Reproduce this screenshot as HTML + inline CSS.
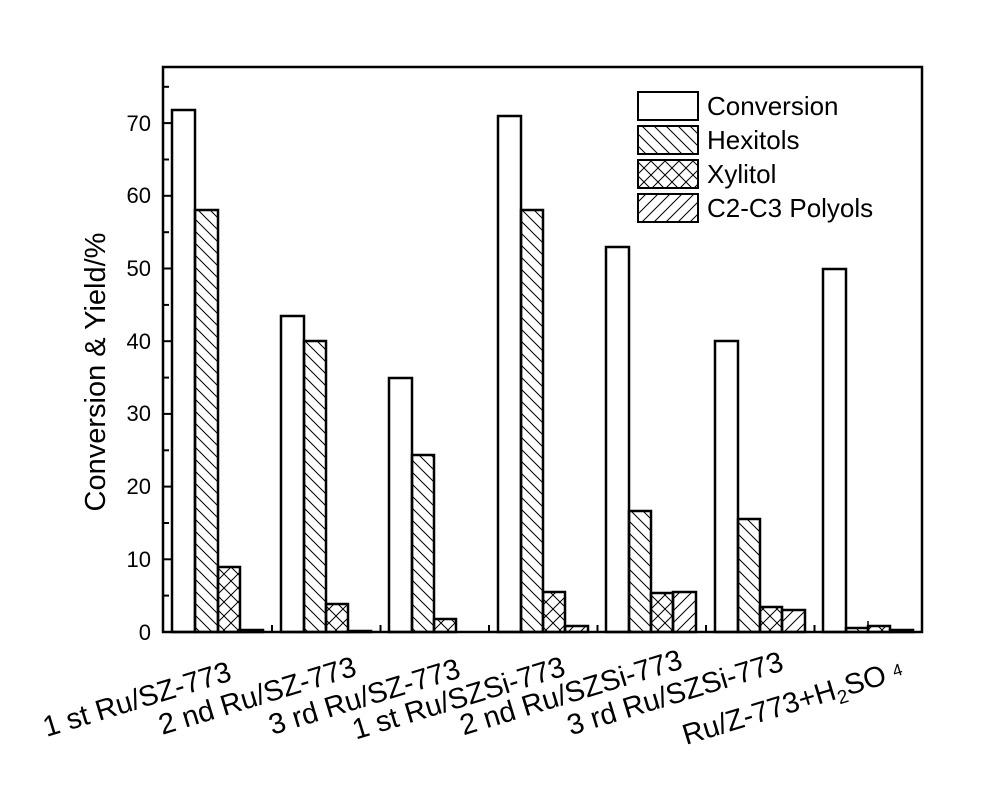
<!DOCTYPE html>
<html><head><meta charset="utf-8"><style>html,body{margin:0;padding:0;background:#fff}</style></head>
<body>
<svg width="1000" height="793" xmlns="http://www.w3.org/2000/svg" font-family="Liberation Sans, Arial, sans-serif">
<defs>
<pattern id="hb" patternUnits="userSpaceOnUse" width="12" height="12"><path d="M-3,-3 L15,15 M-3,9 L3,15 M9,-3 L15,3" stroke="#000" stroke-width="1"/></pattern>
<pattern id="hf" patternUnits="userSpaceOnUse" width="12" height="12"><path d="M-3,15 L15,-3 M-3,3 L3,-3 M9,15 L15,9" stroke="#000" stroke-width="1"/></pattern>
<pattern id="hx" patternUnits="userSpaceOnUse" width="14" height="14"><path d="M-3,-3 L17,17 M-3,17 L17,-3 M-3,11 L3,17 M11,-3 L17,3 M-3,3 L3,-3 M11,17 L17,11" stroke="#000" stroke-width="1"/></pattern>
</defs>
<rect width="1000" height="793" fill="#fff"/>
<g stroke="#000" stroke-width="2.5">
<rect x="172" y="110" width="23" height="522" fill="#fff"/>
<rect x="195" y="210" width="23" height="422" fill="url(#hb)"/>
<rect x="218" y="567" width="22" height="65" fill="url(#hx)"/>
<rect x="240" y="630" width="23" height="2" fill="#000"/>
<rect x="281" y="316" width="23" height="316" fill="#fff"/>
<rect x="304" y="341" width="22" height="291" fill="url(#hb)"/>
<rect x="326" y="604" width="22" height="28" fill="url(#hx)"/>
<rect x="348" y="631" width="23" height="1" fill="#000"/>
<rect x="389" y="378" width="23" height="254" fill="#fff"/>
<rect x="412" y="455" width="22" height="177" fill="url(#hb)"/>
<rect x="434" y="619" width="22" height="13" fill="url(#hx)"/>
<rect x="498" y="116" width="23" height="516" fill="#fff"/>
<rect x="521" y="210" width="22" height="422" fill="url(#hb)"/>
<rect x="543" y="592" width="22" height="40" fill="url(#hx)"/>
<rect x="565" y="626" width="23" height="6" fill="url(#hf)"/>
<rect x="606" y="247" width="23" height="385" fill="#fff"/>
<rect x="629" y="511" width="22" height="121" fill="url(#hb)"/>
<rect x="651" y="593" width="22" height="39" fill="url(#hx)"/>
<rect x="673" y="592" width="23" height="40" fill="url(#hf)"/>
<rect x="715" y="341" width="23" height="291" fill="#fff"/>
<rect x="738" y="519" width="22" height="113" fill="url(#hb)"/>
<rect x="760" y="607" width="22" height="25" fill="url(#hx)"/>
<rect x="782" y="610" width="23" height="22" fill="url(#hf)"/>
<rect x="823" y="269" width="23" height="363" fill="#fff"/>
<rect x="846" y="628" width="22" height="4" fill="url(#hb)"/>
<rect x="868" y="626" width="22" height="6" fill="url(#hx)"/>
<rect x="890" y="630" width="23" height="2" fill="#000"/>
</g>
<line x1="868" y1="621" x2="868" y2="632" stroke="#000" stroke-width="1.5"/>
<rect x="163" y="67" width="759" height="565" fill="none" stroke="#000" stroke-width="2.5"/>
<g stroke="#000" stroke-width="2">
<line x1="163" y1="559.3" x2="173" y2="559.3"/><line x1="163" y1="486.6" x2="173" y2="486.6"/>
<line x1="163" y1="413.9" x2="173" y2="413.9"/><line x1="163" y1="341.2" x2="173" y2="341.2"/>
<line x1="163" y1="268.5" x2="173" y2="268.5"/><line x1="163" y1="195.8" x2="173" y2="195.8"/>
<line x1="163" y1="123.1" x2="173" y2="123.1"/>
<line x1="163" y1="595.6" x2="169" y2="595.6"/><line x1="163" y1="523" x2="169" y2="523"/>
<line x1="163" y1="450.3" x2="169" y2="450.3"/><line x1="163" y1="377.6" x2="169" y2="377.6"/>
<line x1="163" y1="304.9" x2="169" y2="304.9"/><line x1="163" y1="232.2" x2="169" y2="232.2"/>
<line x1="163" y1="159.5" x2="169" y2="159.5"/><line x1="163" y1="86.8" x2="169" y2="86.8"/>
<line x1="272" y1="632" x2="272" y2="625"/><line x1="380.5" y1="632" x2="380.5" y2="625"/>
<line x1="489" y1="632" x2="489" y2="625"/><line x1="597.5" y1="632" x2="597.5" y2="625"/>
<line x1="706" y1="632" x2="706" y2="625"/><line x1="814.5" y1="632" x2="814.5" y2="625"/>
</g>
<g font-size="22" text-anchor="end" fill="#000">
<text x="151" y="640">0</text><text x="151" y="567">10</text><text x="151" y="494">20</text>
<text x="151" y="421">30</text><text x="151" y="349">40</text><text x="151" y="276">50</text>
<text x="151" y="203">60</text><text x="151" y="131">70</text>
</g>
<text transform="translate(105,372) rotate(-90)" font-size="29" text-anchor="middle">Conversion &amp; Yield/%</text>
<g font-size="29" text-anchor="end">
<text transform="translate(233,680) rotate(-17)">1 st Ru/SZ-773</text>
<text transform="translate(358,675) rotate(-17)">2 nd Ru/SZ-773</text>
<text transform="translate(462,677) rotate(-17)">3 rd Ru/SZ-773</text>
<text transform="translate(567,675) rotate(-17)">1 st Ru/SZSi-773</text>
<text transform="translate(684,668) rotate(-17)">2 nd Ru/SZSi-773</text>
<text transform="translate(785,670) rotate(-17)">3 rd Ru/SZSi-773</text>
</g>
<text transform="translate(686,745) rotate(-17)" font-size="29">Ru/Z-773+H<tspan font-size="19" dy="6">2</tspan><tspan dy="-6">SO</tspan><tspan font-size="17" dx="8" dy="-4">4</tspan></text>
<g stroke="#000" stroke-width="2">
<rect x="638" y="92" width="60" height="28" fill="#fff"/>
<rect x="638" y="126" width="60" height="28" fill="url(#hb)"/>
<rect x="638" y="160" width="60" height="28" fill="url(#hx)"/>
<rect x="638" y="194" width="60" height="28" fill="url(#hf)"/>
</g>
<g font-size="26">
<text x="707" y="115">Conversion</text>
<text x="707" y="149">Hexitols</text>
<text x="707" y="183">Xylitol</text>
<text x="707" y="217">C2-C3 Polyols</text>
</g>
</svg>
</body></html>
